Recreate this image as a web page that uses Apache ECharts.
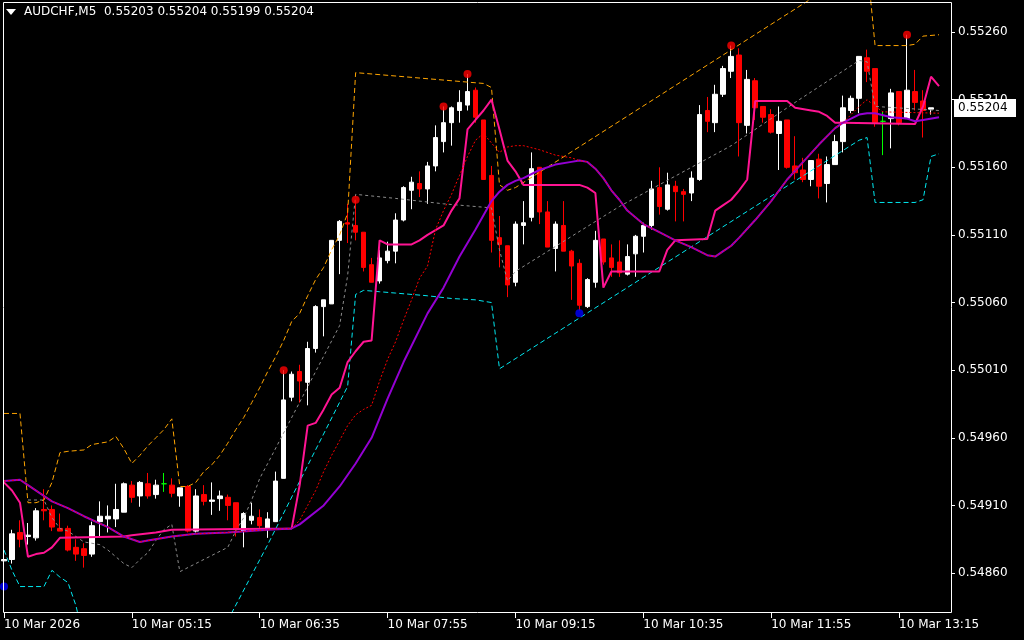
<!DOCTYPE html>
<html><head><meta charset="utf-8">
<script src="https://cdn.jsdelivr.net/npm/echarts@6/dist/echarts.min.js"></script>
<style>html,body{margin:0;padding:0;background:#000;}#c{width:1024px;height:640px;}</style>
</head><body><div id="c"></div>
<script>
const symbolName = 'AUDCHF,M5';
const headerValues = ['0.55203', '0.55204', '0.55199', '0.55204'];
const xTickLabels = ['10 Mar 2026', '10 Mar 05:15', '10 Mar 06:35', '10 Mar 07:55', '10 Mar 09:15', '10 Mar 10:35', '10 Mar 11:55', '10 Mar 13:15'];
const yTickValues = [0.5486, 0.5491, 0.5496, 0.5501, 0.5506, 0.5511, 0.5516, 0.5521, 0.5526];
const yMin = 0.5483045, yMax = 0.552837;

// [open, close, low, high]
const candles = [
[0.54869,0.54870,0.54855,0.54873],[0.54870,0.54889,0.54867,0.54892],[0.54890,0.54885,0.54879,0.54899],[0.54887,0.54888,0.54881,0.54897],
[0.54886,0.54906,0.54884,0.54908],[0.54907,0.54906,0.54899,0.54922],[0.54907,0.54894,0.54891,0.54910],[0.54893,0.54891,0.54891,0.54904],
[0.54893,0.54877,0.54876,0.54895],[0.54879,0.54874,0.54869,0.54885],[0.54878,0.54873,0.54864,0.54882],[0.54874,0.54895,0.54872,0.54898],
[0.54898,0.54902,0.54886,0.54913],[0.54900,0.54902,0.54890,0.54910],[0.54900,0.54907,0.54894,0.54926],[0.54905,0.54926,0.54905,0.54927],
[0.54925,0.54916,0.54912,0.54928],[0.54917,0.54927,0.54909,0.54928],[0.54926,0.54917,0.54915,0.54934],[0.54918,0.54925,0.54915,0.54929],
[0.54926,0.54926,0.54920,0.54934],[0.54925,0.54919,0.54916,0.54930],[0.54917,0.54923,0.54909,0.54923],[0.54924,0.54891,0.54890,0.54925],
[0.54891,0.54917,0.54890,0.54922],[0.54918,0.54913,0.54910,0.54925],[0.54913,0.54914,0.54903,0.54927],[0.54915,0.54917,0.54906,0.54921],
[0.54916,0.54910,0.54899,0.54918],[0.54912,0.54892,0.54887,0.54912],[0.54891,0.54904,0.54879,0.54905],[0.54899,0.54902,0.54896,0.54912],
[0.54901,0.54895,0.54892,0.54907],[0.54893,0.54900,0.54886,0.54905],[0.54898,0.54928,0.54898,0.54935],[0.54930,0.54988,0.54930,0.55010],
[0.54990,0.55007,0.54987,0.55009],[0.55009,0.55002,0.54986,0.55014],[0.55001,0.55026,0.54984,0.55031],[0.55026,0.55057,0.55023,0.55058],
[0.55057,0.55062,0.55035,0.55062],[0.55059,0.55106,0.55059,0.55106],[0.55106,0.55120,0.55081,0.55121],[0.55119,0.55118,0.55104,0.55133],
[0.55117,0.55112,0.55106,0.55136],[0.55112,0.55086,0.55083,0.55112],[0.55088,0.55075,0.55075,0.55093],[0.55076,0.55093,0.55074,0.55099],
[0.55091,0.55098,0.55089,0.55105],[0.55098,0.55121,0.55089,0.55126],[0.55121,0.55145,0.55120,0.55146],[0.55143,0.55149,0.55129,0.55153],
[0.55148,0.55144,0.55138,0.55157],[0.55144,0.55161,0.55133,0.55164],[0.55161,0.55182,0.55157,0.55191],[0.55179,0.55193,0.55171,0.55205],
[0.55193,0.55204,0.55176,0.55205],[0.55202,0.55208,0.55193,0.55217],[0.55206,0.55216,0.55202,0.55229],[0.55217,0.55197,0.55193,0.55219],
[0.55195,0.55151,0.55151,0.55195],[0.55154,0.55106,0.55097,0.55161],[0.55108,0.55103,0.55086,0.55124],[0.55102,0.55073,0.55064,0.55102],
[0.55075,0.55118,0.55072,0.55120],[0.55117,0.55119,0.55103,0.55135],[0.55123,0.55159,0.55120,0.55171],[0.55160,0.55127,0.55118,0.55160],
[0.55127,0.55101,0.55101,0.55135],[0.55100,0.55118,0.55083,0.55120],[0.55117,0.55098,0.55098,0.55135],[0.55098,0.55087,0.55062,0.55099],
[0.55089,0.55058,0.55054,0.55092],[0.55057,0.55077,0.55056,0.55078],[0.55075,0.55106,0.55071,0.55113],[0.55107,0.55090,0.55088,0.55107],
[0.55093,0.55086,0.55079,0.55103],[0.55090,0.55082,0.55079,0.55106],[0.55081,0.55094,0.55080,0.55103],[0.55096,0.55109,0.55079,0.55110],
[0.55109,0.55117,0.55097,0.55119],[0.55117,0.55144,0.55114,0.55150],[0.55145,0.55131,0.55125,0.55160],[0.55129,0.55147,0.55128,0.55156],
[0.55146,0.55142,0.55120,0.55150],[0.55142,0.55140,0.55120,0.55144],[0.55141,0.55152,0.55135,0.55157],[0.55151,0.55199,0.55150,0.55206],
[0.55202,0.55194,0.55186,0.55212],[0.55193,0.55214,0.55186,0.55221],[0.55214,0.55233,0.55212,0.55235],[0.55231,0.55242,0.55226,0.55250],
[0.55243,0.55193,0.55168,0.55248],[0.55191,0.55225,0.55185,0.55232],[0.55224,0.55204,0.55195,0.55226],[0.55205,0.55197,0.55193,0.55205],
[0.55199,0.55186,0.55185,0.55203],[0.55185,0.55194,0.55158,0.55205],[0.55195,0.55160,0.55159,0.55195],[0.55161,0.55156,0.55151,0.55183],
[0.55158,0.55151,0.55149,0.55167],[0.55151,0.55165,0.55146,0.55165],[0.55166,0.55146,0.55137,0.55170],[0.55148,0.55162,0.55134,0.55168],
[0.55162,0.55179,0.55162,0.55184],[0.55179,0.55204,0.55171,0.55213],[0.55202,0.55211,0.55200,0.55213],[0.55211,0.55242,0.55200,0.55242],
[0.55241,0.55231,0.55223,0.55247],[0.55233,0.55193,0.55190,0.55233],[0.55194,0.55194,0.55169,0.55201],[0.55196,0.55215,0.55174,0.55218],
[0.55216,0.55193,0.55191,0.55216],[0.55196,0.55217,0.55196,0.55258],[0.55216,0.55208,0.55202,0.55232],[0.55209,0.55202,0.55182,0.55217],
[0.55203,0.55204,0.55199,0.55204]
];

// indicator lines: [bar index, price]
const upperBand = [[0,0.54978],[2,0.54978],[3,0.54912],[4,0.54912],[5,0.54914],[6,0.54927],[7,0.54949],[8,0.54950],[10,0.54951],[11,0.54955],[13,0.54957],[14,0.54961],[15,0.54952],[16,0.54941],[17,0.54947],[18,0.54954],[19,0.54960],[20,0.54966],[21,0.54974],[22,0.54924],[23,0.54924],[24,0.54927],[25,0.54935],[26,0.54940],[27,0.54947],[28,0.54956],[29,0.54966],[30,0.54975],[31,0.54986],[32,0.54997],[33,0.55009],[34,0.55020],[35,0.55032],[36,0.55046],[37,0.55052],[38,0.55065],[39,0.55077],[40,0.55086],[41,0.55099],[42,0.55110],[43,0.55126],[44,0.55230],[60,0.55222],[61,0.55219],[62,0.55147],[63,0.55143],[64,0.55145],[108,0.55311],[109,0.55250],[113,0.55250],[114,0.55251],[115,0.55257],[117,0.55258]];
const lowerBand = [[0,0.54877],[1,0.54862],[2,0.54850],[5,0.54850],[6,0.54862],[7,0.54857],[8,0.54853],[9,0.54836],[10,0.54810],[27,0.54810],[28,0.54825],[33,0.54881],[43,0.54998],[44,0.55066],[45,0.55069],[47,0.55068],[49,0.55067],[53,0.55065],[56,0.55063],[59,0.55062],[61,0.55060],[62,0.55011],[107,0.55180],[108,0.55182],[109,0.55134],[114,0.55134],[115,0.55136],[116,0.55168],[117,0.55170]];
const midLine = [[3,0.54914],[5,0.54914],[6,0.54901],[7,0.54893],[8,0.54891],[9,0.54887],[10,0.54883],[12,0.54881],[13,0.54877],[14,0.54872],[15,0.54867],[16,0.54864],[17,0.54870],[18,0.54875],[19,0.54884],[20,0.54892],[21,0.54896],[22,0.54861],[28,0.54879],[29,0.54891],[30,0.54901],[31,0.54914],[32,0.54930],[33,0.54941],[42,0.55043],[43,0.55080],[44,0.55140],[49,0.55137],[55,0.55133],[61,0.55130],[62,0.55099],[63,0.55076],[64,0.55083],[77,0.55131],[91,0.55176],[99,0.55208],[107,0.55239],[108,0.55238],[109,0.55205],[117,0.55202]];
const slowMA = [[0,0.54928],[2,0.54929],[3,0.54925],[6,0.54913],[8,0.54908],[10,0.54902],[13,0.54894],[15,0.54887],[17,0.54883],[18,0.54884],[21,0.54887],[24,0.54889],[28,0.54890],[33,0.54892],[36,0.54893],[37,0.54896],[40,0.54910],[42,0.54924],[44,0.54941],[46,0.54960],[48,0.54989],[50,0.55016],[53,0.55052],[55,0.55071],[57,0.55094],[59,0.55114],[61,0.55135],[62,0.55142],[63,0.55147],[64,0.55150],[65,0.55152],[67,0.55158],[69,0.55162],[71,0.55164],[72,0.55165],[73,0.55164],[74,0.55159],[75,0.55152],[76,0.55143],[77,0.55136],[78,0.55128],[80,0.55118],[82,0.55112],[84,0.55106],[86,0.55101],[88,0.55095],[89,0.55094],[90,0.55098],[91,0.55102],[92,0.55108],[94,0.55121],[96,0.55135],[98,0.55151],[100,0.55164],[102,0.55177],[104,0.55189],[105,0.55193],[106,0.55196],[107,0.55199],[108,0.55200],[109,0.55200],[111,0.55197],[113,0.55196],[114,0.55194],[115,0.55195],[117,0.55197]];
const dottedMA = [[0,0.54928],[2,0.54929],[3,0.54925],[6,0.54913],[8,0.54908],[10,0.54902],[13,0.54894],[15,0.54887],[17,0.54883],[18,0.54884],[21,0.54887],[24,0.54889],[28,0.54890],[33,0.54892],[36,0.54893],[37,0.54899],[38,0.54910],[39,0.54921],[40,0.54935],[41,0.54947],[42,0.54958],[43,0.54969],[44,0.54977],[45,0.54981],[46,0.54984],[47,0.55002],[48,0.55018],[49,0.55031],[50,0.55047],[51,0.55062],[52,0.55078],[53,0.55087],[54,0.55114],[55,0.55128],[56,0.55140],[57,0.55154],[58,0.55168],[59,0.55180],[60,0.55185],[61,0.55178],[62,0.55171],[63,0.55175],[64,0.55176],[65,0.55176],[67,0.55173],[69,0.55169],[71,0.55167],[72,0.55165],[73,0.55164],[74,0.55159],[75,0.55152],[76,0.55143],[77,0.55136],[78,0.55128],[80,0.55118],[82,0.55112],[84,0.55106],[86,0.55101],[88,0.55095],[89,0.55094],[90,0.55098],[91,0.55102],[92,0.55108],[94,0.55121],[96,0.55135],[98,0.55151],[100,0.55164],[102,0.55177],[104,0.55189],[105,0.55193],[106,0.55199],[107,0.55205],[108,0.55210],[109,0.55205],[110,0.55201],[117,0.55200]];
const fastLine = [[0,0.54927],[1,0.54921],[2,0.54912],[3,0.54872],[4,0.54874],[5,0.54875],[6,0.54879],[7,0.54886],[15,0.54887],[16,0.54888],[19,0.54890],[21,0.54892],[36,0.54893],[37,0.54925],[38,0.54969],[39,0.54971],[40,0.54981],[41,0.54992],[42,0.54997],[43,0.55016],[44,0.55024],[45,0.55031],[46,0.55032],[47,0.55106],[48,0.55103],[51,0.55103],[52,0.55106],[53,0.55110],[55,0.55117],[56,0.55128],[57,0.55137],[58,0.55188],[59,0.55195],[60,0.55202],[61,0.55210],[62,0.55188],[63,0.55165],[64,0.55157],[65,0.55147],[72,0.55147],[73,0.55145],[74,0.55141],[75,0.55071],[76,0.55083],[82,0.55083],[83,0.55099],[84,0.55106],[88,0.55107],[89,0.55128],[90,0.55132],[91,0.55136],[92,0.55143],[93,0.55151],[94,0.55209],[98,0.55209],[99,0.55204],[101,0.55202],[102,0.55201],[103,0.55198],[104,0.55193],[105,0.55193],[114,0.55192],[115,0.55205],[116,0.55227],[117,0.55220]];
const fractalHighs = [[35,0.55010],[44,0.55136],[55,0.55205],[58,0.55229],[91,0.55250],[113,0.55258]];
const fractalLows = [[0,0.54850],[72,0.55052]];

const FONT = 'DejaVu Sans';
const categories = [];
for (let i = 0; i < 119; i++) {
  const m = 3 * 60 + 55 + 5 * i;
  categories.push('10 Mar ' + String(Math.floor(m / 60)).padStart(2, '0') + ':' + String(m % 60).padStart(2, '0'));
}
const GREEN = '#00ff00';
const candleData = candles.map(c => c[0] === c[1]
  ? { value: c, itemStyle: { color: GREEN, color0: GREEN, borderColor: GREEN, borderColor0: GREEN } }
  : c);

function lineSeries(name, data, color, width, type, z) {
  return { name, type: 'line', data, symbol: 'none', showSymbol: false, clip: true, silent: true, z,
    lineStyle: { color, width, type }, animation: false };
}

const chart = echarts.init(document.getElementById('c'), null, { renderer: 'canvas' });
chart.setOption({
  backgroundColor: '#000000',
  animation: false,
  grid: { left: -1, right: 73, top: 0, bottom: 27, containLabel: false },
  xAxis: {
    type: 'category', data: categories, boundaryGap: true,
    axisLine: { show: false },
    axisTick: { show: true, interval: 15, alignWithLabel: true, length: 5, lineStyle: { color: '#ffffff' } },
    axisLabel: { interval: 15, align: 'left', margin: 6, color: '#ffffff', fontFamily: FONT, fontSize: 12,
      formatter: (v, i) => (i % 16 === 0 && xTickLabels[i / 16]) ? xTickLabels[i / 16] : '' },
    splitLine: { show: false }
  },
  yAxis: {
    type: 'value', position: 'right', min: yMin, max: yMax, scale: true,
    axisLine: { show: false },
    splitLine: { show: false },
    axisTick: { show: true, customValues: yTickValues, length: 4, lineStyle: { color: '#ffffff' } },
    axisLabel: { customValues: yTickValues, formatter: v => v.toFixed(5), color: '#ffffff', fontFamily: FONT, fontSize: 12, margin: 7 }
  },
  series: [
    { name: 'price', type: 'candlestick', data: candleData, barWidth: 5, z: 2, silent: true,
      itemStyle: { color: '#ffffff', color0: '#ff0000', borderColor: '#ffffff', borderColor0: '#ff0000', borderWidth: 1 } },
    lineSeries('upper', upperBand, '#ffa500', 1, [5, 3], 3),
    lineSeries('lower', lowerBand, '#00e8f0', 1, [5, 3], 3),
    lineSeries('middle', midLine, '#8c8c8c', 1, [3, 3], 3),
    lineSeries('fast', fastLine, '#ff1493', 2, 'solid', 4),
    lineSeries('slow', slowMA, '#9400d3', 2, 'solid', 5),
    lineSeries('dotted', dottedMA, '#ff0000', 1, [2, 2], 6),
    { name: 'fractalHigh', type: 'scatter', data: fractalHighs, symbol: 'circle', symbolSize: 8, z: 7, silent: true,
      itemStyle: { color: '#ff0000' } },
    { name: 'fractalLow', type: 'scatter', data: fractalLows, symbol: 'circle', symbolSize: 8, z: 7, silent: true,
      itemStyle: { color: '#0000ff' } }
  ],
  graphic: [
    { type: 'rect', z: 50, silent: true, shape: { x: 3.5, y: 2.5, width: 948, height: 610 },
      style: { fill: null, stroke: '#ffffff', lineWidth: 1 } },
    { type: 'polygon', z: 50, silent: true, shape: { points: [[6, 9], [16, 9], [11, 15]] }, style: { fill: '#ffffff' } },
    { type: 'text', z: 50, silent: true, left: 24, top: 6,
      style: { text: symbolName + '  ' + headerValues.join(' '), fill: '#ffffff', font: '12px "DejaVu Sans"' } }
  ]
});

const lastClose = candles[candles.length - 1][1];
const py = chart.convertToPixel({ yAxisIndex: 0 }, lastClose);
chart.setOption({
  graphic: [
    { type: 'rect', id: 'priceBox', z: 60, silent: true, shape: { x: 954, y: Math.round(py) - 9, width: 62, height: 18 },
      style: { fill: '#ffffff' } },
    { type: 'text', id: 'priceText', z: 61, silent: true, x: 958, y: Math.round(py),
      style: { text: lastClose.toFixed(5), fill: '#000000', font: '12px "DejaVu Sans"', verticalAlign: 'middle' } }
  ]
});
</script></body></html>
